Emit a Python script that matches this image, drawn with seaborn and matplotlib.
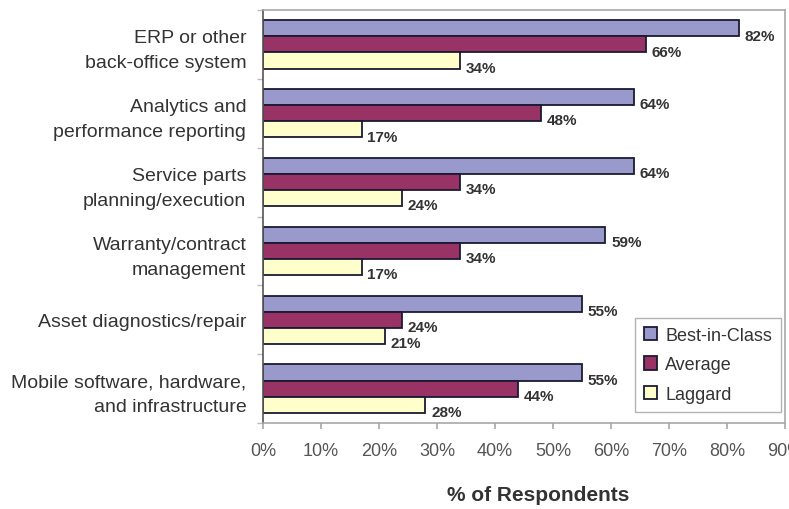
import matplotlib
matplotlib.use("Agg")
import matplotlib.pyplot as plt
import seaborn as sns
import pandas as pd
from matplotlib.ticker import PercentFormatter

categories = [
    "ERP or other\nback-office system",
    "Analytics and\nperformance reporting",
    "Service parts\nplanning/execution",
    "Warranty/contract\nmanagement",
    "Asset diagnostics/repair",
    "Mobile software, hardware,\nand infrastructure",
]
series = ["Best-in-Class", "Average", "Laggard"]
best_in_class = [82, 64, 64, 59, 55, 55]
average = [66, 48, 34, 34, 24, 44]
laggard = [34, 17, 24, 17, 21, 28]
colors = ["#9999CC", "#993366", "#FFFFCC"]

rows = []
for name, vals in zip(series, [best_in_class, average, laggard]):
    for cat, v in zip(categories, vals):
        rows.append({"Category": cat, "Group": name, "Value": v})
df = pd.DataFrame(rows)

sns.set_theme(style="white")
plt.rcParams["font.family"] = ["Liberation Sans", "DejaVu Sans"]

fig = plt.figure(figsize=(7.89, 5.10), dpi=100)
ax = fig.add_axes([263 / 789, 1 - 424 / 510, (785 - 263) / 789, (424 - 11) / 510])

sns.barplot(
    data=df, y="Category", x="Value", hue="Group", orient="h",
    palette=colors, hue_order=series, order=categories,
    width=0.7, edgecolor="#1a1a33", linewidth=1.3, saturation=1, ax=ax,
)

# value labels just right of each bar, sitting at the bar's lower edge
for cont in ax.containers:
    for bar in cont:
        w = bar.get_width()
        y = bar.get_y() + bar.get_height() * 0.95
        ax.text(w + 1.0, y, f"{w:.0f}%", ha="left", va="center",
                fontsize=11, fontweight="bold", color="#333333")

ax.set_xlim(0, 90)
ax.set_xticks(range(0, 91, 10))
ax.xaxis.set_major_formatter(PercentFormatter(decimals=0))
ax.tick_params(axis="x", labelsize=13, colors="#555555", length=4, pad=10,
               direction="out", bottom=True, color="#aaaaaa")
ax.tick_params(axis="y", labelsize=14, colors="#333333", length=0, pad=12)
for lab in ax.get_yticklabels():
    lab.set_linespacing(1.6)

# small tick marks between category groups
ax.set_yticks([i + 0.5 for i in range(-1, len(categories))], minor=True)
ax.tick_params(axis="y", which="minor", length=4, color="#bbbbbb", left=True)

ax.set_ylabel("")
ax.set_xlabel("% of Respondents", fontsize=15, fontweight="bold",
              color="#333333")
ax.xaxis.set_label_coords(0.527, -0.15)
ax.set_facecolor("white")
for side, sp in ax.spines.items():
    sp.set_color("#a8a8a8")
    sp.set_linewidth(1.2)
ax.spines["left"].set_color("#555555")

leg = ax.legend(loc="lower right", bbox_to_anchor=(1.01, 0.005), frameon=True,
                fancybox=False, edgecolor="#a0a0a0", fontsize=13,
                handlelength=0.75, handleheight=0.75, labelspacing=0.7,
                borderpad=0.5, handletextpad=0.45)
leg.get_frame().set_linewidth(1.0)
for t in leg.get_texts():
    t.set_color("#333333")

fig.savefig("out.png", dpi=100)
